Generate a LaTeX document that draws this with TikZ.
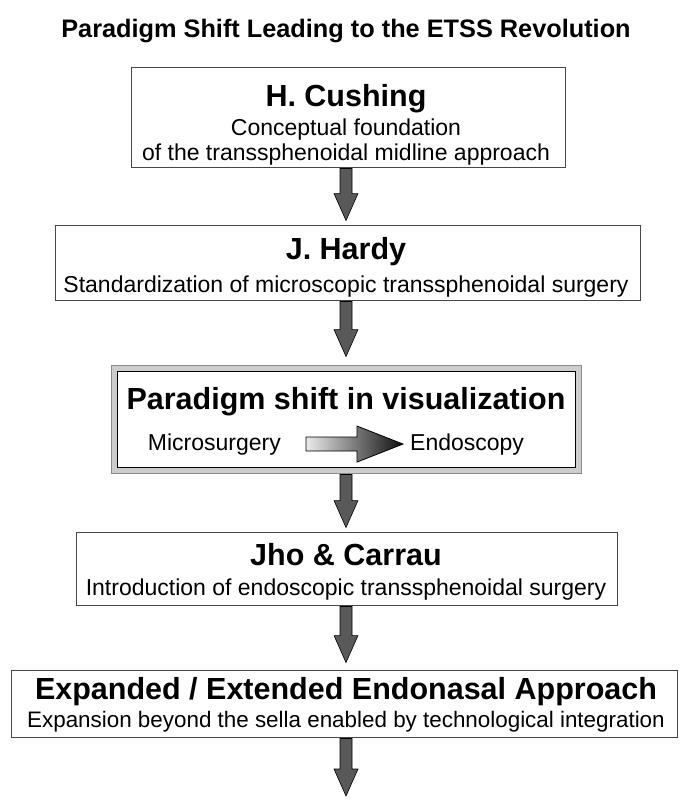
\documentclass[tikz,border=0pt]{standalone}
\usepackage{fontspec}
\setmainfont{Liberation Sans}
\usetikzlibrary{calc}
\newcommand{\blockarrow}[2]{%
  \draw[blockarr] let \p1=#1, \p2=#2 in
    (\x1-6pt,\y1) -- (\x1+6pt,\y1) -- (\x1+6pt,\y2+27pt) -- (\x1+12pt,\y2+27pt)
    -- (\x1,\y2) -- (\x1-12pt,\y2+27pt) -- (\x1-6pt,\y2+27pt) -- cycle;}
\begin{document}
\begin{tikzpicture}[x=1pt,y=-1pt,
  box/.style={draw=black!72, line width=0.9pt, fill=white, inner sep=0pt},
  ttl/.style={font=\bfseries\fontsize{30.5}{36}\selectfont, anchor=base, inner sep=0pt},
  sub/.style={font=\fontsize{23}{28}\selectfont, anchor=base, inner sep=0pt},
  blockarr/.style={draw=black, line width=0.6pt, fill=black!65}]
\useasboundingbox (0,0) rectangle (690,803);
\fill[white] (0,0) rectangle (690,803);

\node[font=\bfseries\fontsize{25.3}{30}\selectfont, anchor=base, inner sep=0pt] (title) at (346,37) {Paradigm Shift Leading to the ETSS Revolution};

% Box 1
\node[box, minimum width=434pt, minimum height=100pt] (cushing) at (348,117) {};
\node[ttl] (cushingT) at (346,106) {H. Cushing};
\node[sub] (cushingS1) at (346,135) {Conceptual foundation};
\node[sub] (cushingS2) at (346,160) {of the transsphenoidal midline approach};

% Box 2
\node[box, minimum width=585pt, minimum height=75pt] (hardy) at (347.5,262.5) {};
\node[ttl] (hardyT) at (346,259) {J. Hardy};
\node[sub] (hardyS) at (346,292) {Standardization of microscopic transsphenoidal surgery};

% Paradigm box
\node[draw=black!45, line width=0.9pt, fill=black!20, minimum width=470pt, minimum height=108pt, inner sep=0pt] (paraO) at (346,419) {};
\node[draw=black, line width=0.9pt, fill=white, minimum width=458pt, minimum height=96pt, inner sep=0pt] (paraI) at (346,419) {};
\node[ttl] (paraT) at (346,409) {Paradigm shift in visualization};
\node[sub, anchor=base east] (micro) at (281,450) {Microsurgery};
\node[sub, anchor=base west] (endo) at (410,450) {Endoscopy};
\coordinate (gs) at ($(micro.east)+(25,0)$);
\coordinate (ge) at ($(endo.west)+(-7,0)$);
\shade[left color=black!8, right color=black!95, draw=black, line width=0.8pt]
  let \p1=(gs), \p2=(ge) in
  (\x1,\y1+7pt) -- (\x2-46pt,\y1+7pt) -- (\x2-46pt,\y1+18pt) -- (\x2,\y1)
  -- (\x2-46pt,\y1-18pt) -- (\x2-46pt,\y1-7pt) -- (\x1,\y1-7pt) -- cycle;

% Box 4
\node[box, minimum width=541pt, minimum height=73pt] (jho) at (346.5,568.5) {};
\node[ttl] (jhoT) at (346,565) {Jho \& Carrau};
\node[sub] (jhoS) at (346,595) {Introduction of endoscopic transsphenoidal surgery};

% Box 5
\node[box, minimum width=666pt, minimum height=67pt] (eea) at (344,703.5) {};
\node[ttl] (eeaT) at (346,699) {Expanded / Extended Endonasal Approach};
\node[sub, font=\fontsize{22.4}{27}\selectfont] (eeaS) at (346,727) {Expansion beyond the sella enabled by technological integration};

\coordinate (endpt) at (346,796);

% Arrows
\blockarrow{($(cushing.south)+(-2,1)$)}{($(hardy.north)+(0,-4)$)}
\blockarrow{($(hardy.south)+(-1.5,1)$)}{($(paraO.north)+(0,-8)$)}
\blockarrow{($(paraO.south)+(0,1)$)}{($(jho.north)+(0,-4)$)}
\blockarrow{($(jho.south)+(-0.5,1)$)}{($(eea.north)+(0,-7)$)}
\blockarrow{($(eea.south)+(2,1)$)}{(endpt)}
\end{tikzpicture}
\end{document}
